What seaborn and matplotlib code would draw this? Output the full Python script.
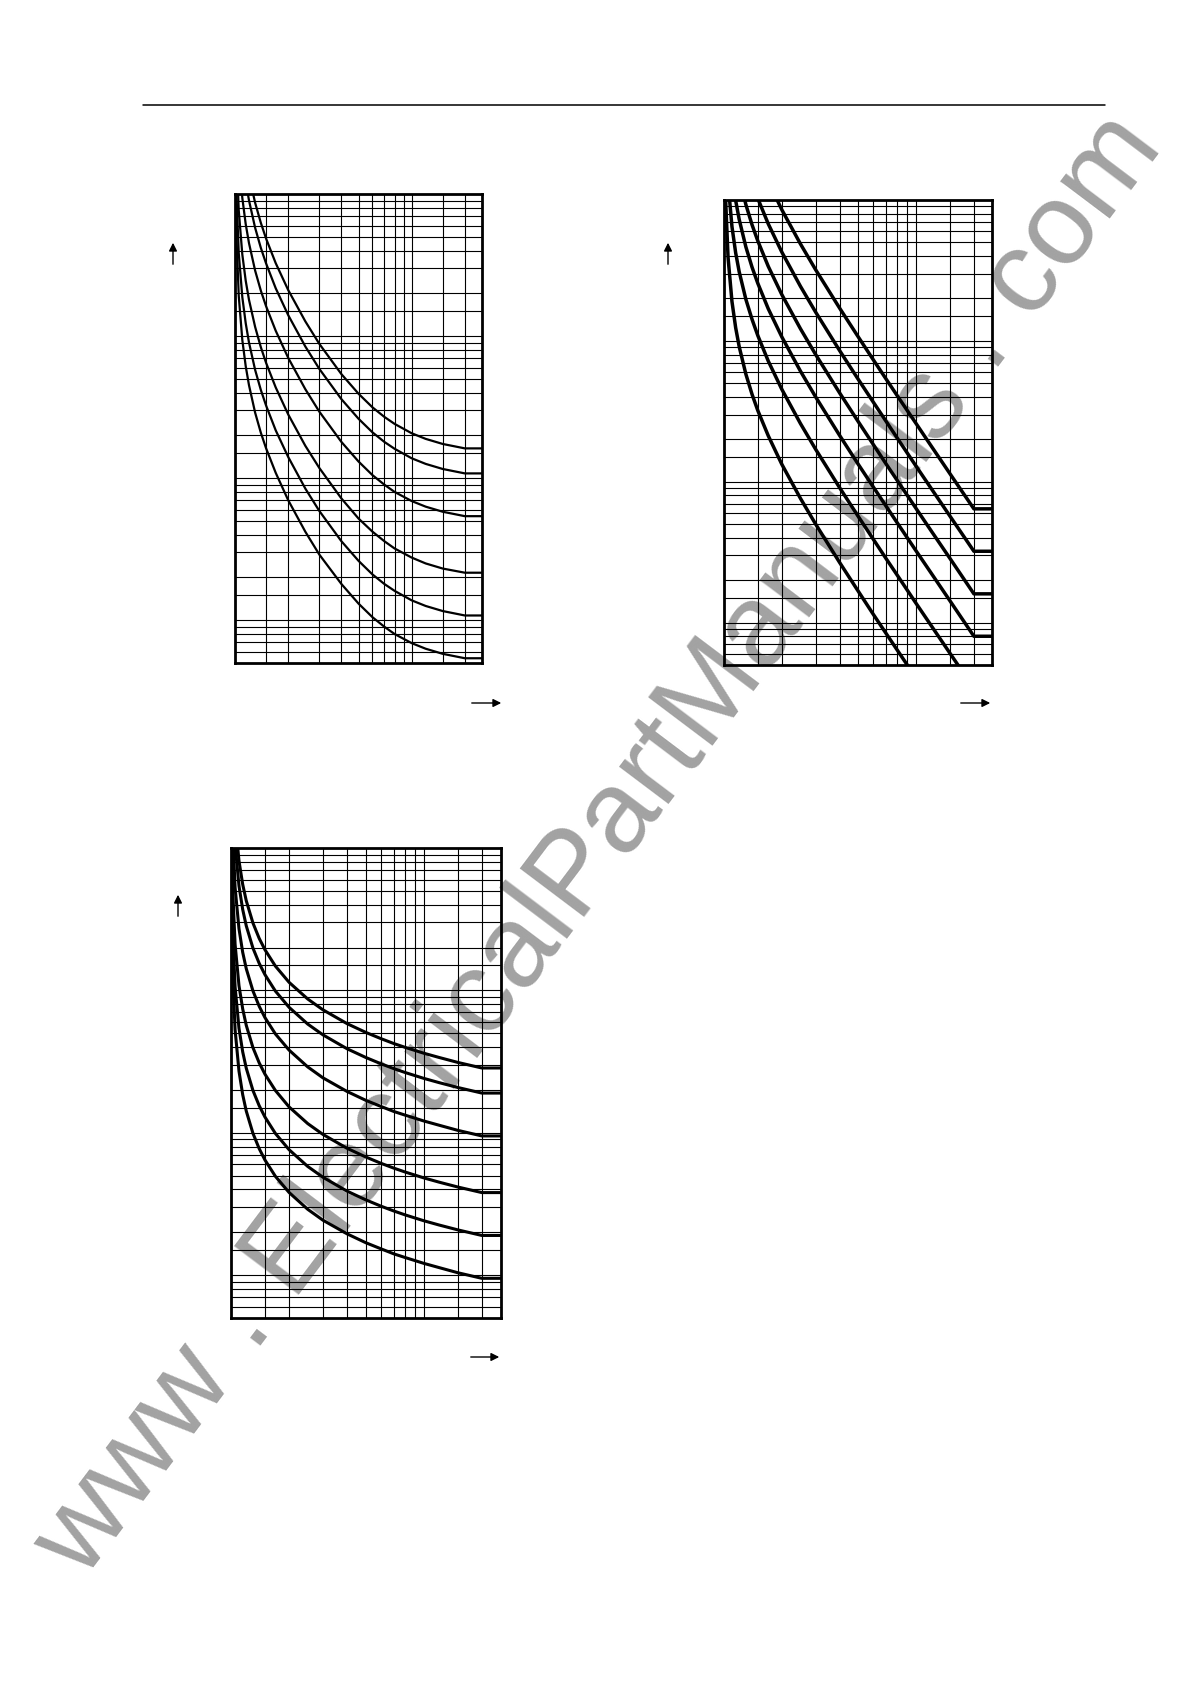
import pandas as pd
import seaborn as sns
import matplotlib
matplotlib.use("Agg")
import matplotlib.pyplot as plt
from matplotlib.lines import Line2D
from matplotlib.patches import FancyArrowPatch
from matplotlib.ticker import NullLocator

# current as a multiple of the pickup value, shared by all three charts
multiple = [1.002, 1.005, 1.01, 1.02, 1.05, 1.1, 1.15, 1.2, 1.3, 1.4, 1.5, 1.7,
            2, 2.5, 3, 4, 5, 6, 7, 8, 10, 12, 15, 20, 25]

# top left chart, one curve per time dial setting
vi_dials = ["15", "10", "5", "2", "1", "0.5"]
vi_times = [
    [14694, 5870, 2928, 1458, 575, 281.6, 183.9, 135.2, 86.7, 62.7, 48.5, 32.6,
     21.1, 12.7, 8.82, 5.40, 3.93, 3.15, 2.70, 2.41, 2.07, 1.89, 1.74, 1.62, 1.62],
    [9796, 3913, 1952, 972, 383.6, 187.7, 122.6, 90.1, 57.8, 41.8, 32.4, 21.7,
     14.05, 8.45, 5.88, 3.60, 2.62, 2.10, 1.80, 1.61, 1.38, 1.26, 1.16, 1.08, 1.08],
    [4898, 1957, 976, 486, 191.8, 93.9, 61.3, 45.1, 28.9, 20.9, 16.2, 10.9,
     7.03, 4.23, 2.94, 1.80, 1.31, 1.05, 0.90, 0.80, 0.69, 0.63, 0.58, 0.54, 0.54],
    [1959, 782.6, 390, 194.4, 76.7, 37.5, 24.5, 18.0, 11.6, 8.36, 6.47, 4.35,
     2.81, 1.69, 1.18, 0.72, 0.52, 0.42, 0.36, 0.32, 0.276, 0.251, 0.231, 0.216, 0.216],
    [979.6, 391.3, 195, 97.2, 38.4, 18.8, 12.3, 9.01, 5.78, 4.18, 3.24, 2.17,
     1.41, 0.845, 0.588, 0.360, 0.262, 0.210, 0.180, 0.161, 0.138, 0.126, 0.116, 0.108, 0.108],
    [489.8, 195.7, 97.6, 48.6, 19.2, 9.39, 6.13, 4.51, 2.89, 2.09, 1.62, 1.09,
     0.70, 0.42, 0.29, 0.18, 0.131, 0.105, 0.090, 0.080, 0.069, 0.063, 0.058, 0.054, 0.054],
]

# top right chart, one curve per time multiplier
ei_dials = ["3.2", "1.6", "0.8", "0.4", "0.2", "0.05"]
ei_times = [
    [63936, 25536, 12736, 6336, 2498, 1219, 794, 582, 371, 266.6, 204.8, 135.4,
     85.3, 48.8, 32.0, 17.07, 10.67, 7.31, 5.33, 4.06, 2.59, 1.79, 1.142, 0.642, 0.642],
    [31968, 12768, 6368, 3168, 1249, 610, 397, 291, 185.4, 133.3, 102.4, 67.7,
     42.7, 24.4, 16.0, 8.53, 5.33, 3.66, 2.67, 2.03, 1.29, 0.894, 0.571, 0.321, 0.321],
    [15984, 6384, 3184, 1584, 624, 305, 198.4, 145.4, 92.7, 66.6, 51.2, 33.8,
     21.3, 12.2, 8.0, 4.27, 2.67, 1.83, 1.33, 1.016, 0.646, 0.447, 0.286, 0.160, 0.160],
    [7992, 3192, 1592, 792, 312, 152.4, 99.2, 72.7, 46.4, 33.3, 25.6, 16.9,
     10.67, 6.10, 4.0, 2.13, 1.33, 0.914, 0.667, 0.508, 0.323, 0.224, 0.143, 0.080, 0.080],
    [3397, 1357, 677, 337, 132.7, 64.8, 42.2, 30.9, 19.7, 14.2, 10.9, 7.19,
     4.53, 2.59, 1.70, 0.907, 0.567, 0.389, 0.283, 0.216, 0.137, 0.095, 0.0607, 0.0341, 0.0341],
    [999, 399, 199, 99, 39.0, 19.05, 12.4, 9.09, 5.80, 4.17, 3.2, 2.12,
     1.33, 0.762, 0.5, 0.267, 0.167, 0.114, 0.0833, 0.0635, 0.0404, 0.028, 0.0179, 0.0100, 0.0100],
]

# bottom chart, one curve per time dial setting
mi_dials = ["15", "10", "5", "2", "1", "0.5"]
mi_times = [
    [3867, 1549, 776.7, 390.5, 158.6, 81.3, 55.5, 42.6, 29.7, 23.2, 19.3, 14.8,
     11.4, 8.70, 7.30, 5.84, 5.07, 4.58, 4.23, 3.98, 3.62, 3.38, 3.12, 2.85, 2.85],
    [2578, 1033, 517.8, 260.3, 105.7, 54.2, 37.0, 28.4, 19.8, 15.5, 12.9, 9.88,
     7.61, 5.80, 4.87, 3.89, 3.38, 3.05, 2.82, 2.65, 2.41, 2.25, 2.08, 1.90, 1.90],
    [1289, 516, 258.9, 130.2, 52.9, 27.1, 18.5, 14.2, 9.91, 7.74, 6.44, 4.94,
     3.81, 2.90, 2.43, 1.95, 1.69, 1.53, 1.41, 1.33, 1.21, 1.13, 1.04, 0.95, 0.95],
    [515.6, 206.5, 103.6, 52.1, 21.1, 10.8, 7.41, 5.68, 3.96, 3.10, 2.58, 1.98,
     1.52, 1.16, 0.973, 0.778, 0.676, 0.610, 0.564, 0.530, 0.482, 0.450, 0.416, 0.380, 0.380],
    [257.8, 103.3, 51.8, 26.0, 10.6, 5.42, 3.70, 2.84, 1.98, 1.55, 1.29, 0.988,
     0.761, 0.580, 0.487, 0.389, 0.338, 0.305, 0.282, 0.265, 0.241, 0.225, 0.208, 0.190, 0.190],
    [128.9, 51.6, 25.9, 13.0, 5.29, 2.71, 1.85, 1.42, 0.99, 0.774, 0.644, 0.494,
     0.381, 0.290, 0.243, 0.195, 0.169, 0.153, 0.141, 0.133, 0.121, 0.113, 0.104, 0.095, 0.095],
]

# grid lines of the log paper
x_grid = [1.5, 2, 3, 4, 5, 6, 7, 8, 9, 10, 15, 20]
mantissas = [1, 1.5, 2, 3, 4, 5, 6, 7, 8, 9]

W, H = 1190, 1682


def fig_xy(x, y):
    # page pixels (origin top left) -> figure fraction
    return x / W, 1 - y / H


def make_axes(fig, left, top, right, bottom):
    x0, y0 = fig_xy(left, bottom)
    return fig.add_axes([x0, y0, (right - left) / W, (bottom - top) / H])


def draw_chart(ax, dials, times, ylim, curve_lw):
    rows = []
    for name, ys in zip(dials, times):
        for xv, yv in zip(multiple, ys):
            rows.append({"multiple": xv, "time": yv, "curve": name})
    df = pd.DataFrame(rows)

    sns.lineplot(data=df, x="multiple", y="time", units="curve", estimator=None,
                 sort=False, color="black", lw=curve_lw, ax=ax, legend=False, zorder=3)
    ax.set_xscale("log")
    ax.set_yscale("log")
    ax.set_xlim(1, 25)
    ax.set_ylim(*ylim)

    y_grid = [m * 10.0 ** e for e in range(-3, 3) for m in mantissas]
    y_grid = [v for v in y_grid if ylim[0] * 1.001 < v < ylim[1] * 0.999]
    ax.set_xticks(x_grid)
    ax.set_yticks(y_grid)
    ax.xaxis.set_minor_locator(NullLocator())
    ax.yaxis.set_minor_locator(NullLocator())
    ax.set_xticklabels([])
    ax.set_yticklabels([])
    ax.set_xlabel("")
    ax.set_ylabel("")
    ax.tick_params(axis="x", direction="out", length=8, width=0.8, color="black")
    ax.tick_params(axis="y", direction="out", length=5.5, width=0.8, color="black")
    ax.grid(True, which="major", color="black", lw=0.8)
    ax.set_axisbelow(True)
    ax.patch.set_alpha(0)
    for sp in ax.spines.values():
        sp.set_visible(True)
        sp.set_color("black")
        sp.set_linewidth(2.0)


def arrow(fig, x0, y0, x1, y1):
    a = FancyArrowPatch(fig_xy(x0, y0), fig_xy(x1, y1), transform=fig.transFigure,
                        arrowstyle="-|>", mutation_scale=12, lw=1.0, color="black")
    fig.add_artist(a)


sns.set_theme(style="white")
plt.rcParams["font.family"] = ["Liberation Sans", "DejaVu Sans"]

fig = plt.figure(figsize=(W / 100, H / 100), dpi=100)
fig.patch.set_facecolor("white")

# watermark sits under the charts
fig.text(599 / W, 1 - 846 / H, "www . ElectricalPartManuals . com", rotation=53,
         rotation_mode="anchor", ha="center", va="center", fontsize=84,
         color="#a2a2a2", zorder=-5)

ax1 = make_axes(fig, 235, 194, 482, 663)
draw_chart(ax1, vi_dials, vi_times, (0.05, 100), 1.6)

ax2 = make_axes(fig, 724, 200, 992.5, 665)
draw_chart(ax2, ei_dials, ei_times, (0.05, 100), 2.5)

ax3 = make_axes(fig, 231, 848, 500.5, 1318)
draw_chart(ax3, mi_dials, mi_times, (0.05, 100), 2.2)

# rule at the top of the page
fig.add_artist(Line2D([143 / W, 1105 / W], [1 - 105 / H] * 2,
                      transform=fig.transFigure, color="black", lw=1.1))

# axis direction arrows (their labels are missing on the page)
arrow(fig, 173, 267, 173, 240)
arrow(fig, 668, 267, 668, 240)
arrow(fig, 178, 919, 178, 892)
arrow(fig, 469, 703, 504, 703)
arrow(fig, 958, 703, 993, 703)
arrow(fig, 468, 1357, 502, 1357)

fig.savefig("out.png", dpi=100)
